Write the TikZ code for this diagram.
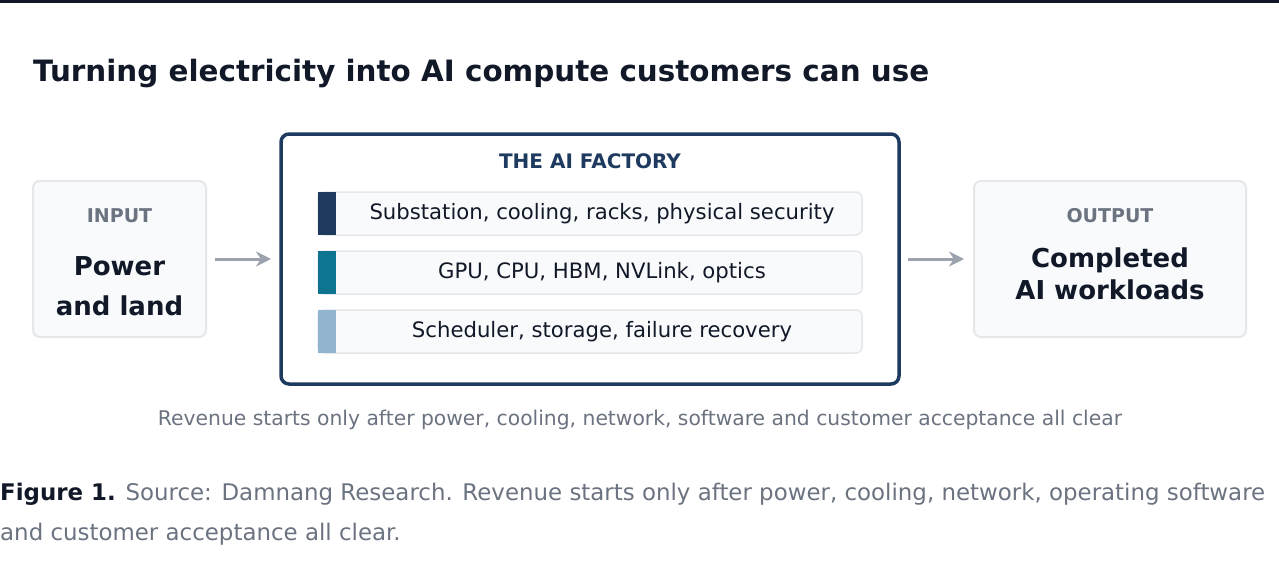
\documentclass[tikz,border=0pt]{standalone}
\usepackage{fontspec}
\setmainfont{DejaVu Sans}
\usetikzlibrary{arrows.meta}
\definecolor{ink}{HTML}{111827}
\definecolor{navy}{HTML}{1E3A5F}
\definecolor{teal}{HTML}{0E7490}
\definecolor{sky}{HTML}{93B4CE}
\definecolor{muted}{HTML}{6B7280}
\definecolor{edge}{HTML}{E5E7EB}
\definecolor{pale}{HTML}{F8FAFC}
\definecolor{arrowgray}{HTML}{9CA3AF}
\tikzset{
  card/.style={rounded corners=7pt, fill=pale, draw=edge, line width=2pt},
  layer/.style={rounded corners=6pt, fill=pale, draw=edge, line width=1.5pt},
  tag/.style={text=muted, font=\bfseries\fontsize{19}{22}\selectfont},
  flow/.style={draw=arrowgray, line width=3pt, -{Stealth[length=15pt,width=15pt]}},
  rowtext/.style={text=ink, font=\fontsize{21.2}{24}\selectfont}
}
\begin{document}
\begin{tikzpicture}[x=1pt,y=-1pt, every node/.style={inner sep=0pt}]
\useasboundingbox (0,0) rectangle (1279,562);
\fill[ink] (0,0) rectangle (1279,3);
\node (title) [anchor=west, text=ink, font=\bfseries\fontsize{29.4}{34}\selectfont] at (33,74) {Turning electricity into AI compute customers can use};
% input and output
\draw[card] (33,181) rectangle (206,337);
\node (intag) [tag] at (119.5,216) {INPUT};
\node (inbody) [text=ink, align=center, font=\bfseries\fontsize{26}{40}\selectfont] at (119.5,286) {Power\\and land};
\draw[card] (974,181) rectangle (1246,337);
\node (outtag) [tag] at (1110,216) {OUTPUT};
\node (outbody) [text=ink, align=center, font=\bfseries\fontsize{26}{32}\selectfont] at (1110,274) {Completed\\AI workloads};
% factory
\draw[draw=navy, line width=3.5pt, rounded corners=8pt] (281,134) rectangle (899,384);
\node (factory) [text=navy, font=\bfseries\fontsize{20}{24}\selectfont] at (590,161) {THE AI FACTORY};
\foreach \y/\c/\t in {192/navy/{Substation, cooling, racks, physical security},
                      251/teal/{GPU, CPU, HBM, NVLink, optics},
                      310/sky/{Scheduler, storage, failure recovery}}{
  \draw[layer] (318,\y) rectangle (862,\y+43);
  \fill[\c] (318,\y) rectangle (336,\y+43);
  \node[rowtext] at (602,\y+21.5) {\t};
}
\coordinate (a1) at (215,259);
\coordinate (a2) at (271,259);
\coordinate (b1) at (908,259);
\coordinate (b2) at (964,259);
\draw[flow] (a1) -- (a2);
\draw[flow] (b1) -- (b2);
\node (note) [text=muted, font=\fontsize{20.3}{24}\selectfont] at (640,420) {Revenue starts only after power, cooling, network, software and customer acceptance all clear};
\node (cap1) [anchor=west, text=muted, font=\fontsize{22.9}{28}\selectfont] at (0,494) {\textcolor{ink}{\bfseries Figure 1.} Source: Damnang Research. Revenue starts only after power, cooling, network, operating software};
\node (cap2) [anchor=west, text=muted, font=\fontsize{22.9}{28}\selectfont] at (0,534) {and customer acceptance all clear.};
\end{tikzpicture}
\end{document}
